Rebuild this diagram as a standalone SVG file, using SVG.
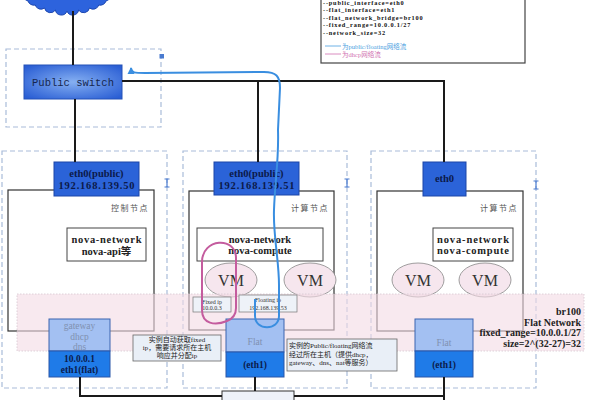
<svg xmlns="http://www.w3.org/2000/svg" width="600" height="400" viewBox="0 0 600 400">
<defs>
<radialGradient id="swg" cx="50%" cy="50%" r="65%"><stop offset="0" stop-color="#86b0f2"/><stop offset="1" stop-color="#2a5ed4"/></radialGradient>
<marker id="arrB" markerWidth="8" markerHeight="8" refX="6" refY="4" orient="auto" markerUnits="userSpaceOnUse"><path d="M0,0.5 L7,4 L0,7.5 Z" fill="#3a8ee0"/></marker>
<style>
.dash{fill:none;stroke:#a9bcd9;stroke-width:1.2;stroke-dasharray:5 3}
.inner{fill:#fff;stroke:#333;stroke-width:1.2}
.eth{fill:#2b63d8;stroke:#1c46a8;stroke-width:1}
.ethT{font-family:"Liberation Serif",serif;font-weight:bold;font-size:10.5px;fill:#0b1a4a;text-anchor:middle}
.lbl{font-family:"Noto Sans CJK SC",sans-serif;font-size:8px;fill:#555;letter-spacing:1.5px;text-anchor:end}
.nova{fill:#fff;stroke:#444;stroke-width:1}
.novaT{font-family:"Liberation Serif","Noto Sans CJK SC",serif;font-weight:bold;font-size:10.5px;fill:#222;text-anchor:middle}
.vm{fill:#f6e6ee;stroke:#888;stroke-width:0.8}
.vmT{font-family:"Liberation Serif",serif;font-size:16px;fill:#333;text-anchor:middle}
.lt{fill:#a3c0f2;stroke:#3a64b0;stroke-width:1}
.dk{fill:#1f7be8;stroke:#2a56a8;stroke-width:1}
.grayT{font-family:"Liberation Serif",serif;font-size:9.5px;fill:#8090b0;text-anchor:middle}
.dkT{font-family:"Liberation Serif",serif;font-weight:bold;font-size:9.5px;fill:#0b1a4a;text-anchor:middle}
.note{fill:#e9eff7;stroke:#666;stroke-width:0.8}
.noteT{font-family:"Liberation Serif","Noto Sans CJK SC",serif;font-size:7px;fill:#222}
.tiny{font-family:"Liberation Serif",serif;font-size:6px;fill:#333;text-anchor:middle}
.wire{fill:none;stroke:#1a1a1a;stroke-width:2}
.ib{fill:none;stroke:#4a7bd0;stroke-width:1.2}
.leg{font-family:"Liberation Serif",serif;font-weight:bold;font-size:6.3px;fill:#111;letter-spacing:0.8px}
.bandT{font-family:"Liberation Serif",serif;font-weight:bold;font-size:10px;fill:#222;text-anchor:end}
</style>
</defs>
<rect width="600" height="400" fill="#fff"/>

<g id="cloud">
<path d="M22,-8 A6,6 0 0,0 23.5,-3.5 A6,6 0 0,0 28,1 A6,6 0 0,0 35.2,5 A6,6 0 0,0 44.5,8 A6,6 0 0,0 55.4,10 A6,6 0 0,0 67,11 A6,6 0 0,0 78.6,10 A6,6 0 0,0 89.5,8 A6,6 0 0,0 98.8,5 A6,6 0 0,0 106,1 A6,6 0 0,0 110.5,-3.5 A6,6 0 0,0 112,-8 L112,-30 L22,-30 Z" fill="#2d63dd" stroke="#1d47b0" stroke-width="1"/>
</g>

<g id="legend">
<rect x="321" y="-10" width="204" height="73" fill="#fff" stroke="#444" stroke-width="1.2"/>
<text class="leg" x="323" y="4.5">--public_interface=eth0</text>
<text class="leg" x="323" y="12">--flat_interface=eth1</text>
<text class="leg" x="323" y="19.5">--flat_network_bridge=br100</text>
<text class="leg" x="323" y="27">--fixed_range=10.0.0.1/27</text>
<text class="leg" x="323" y="34.5">--network_size=32</text>
<line x1="325" y1="46" x2="341" y2="46" stroke="#4aa0e0" stroke-width="0.8"/>
<text x="342" y="48.5" font-family="Liberation Serif,Noto Sans CJK SC,serif" font-size="6.5px" fill="#4aa0e0">为public/floating网络流</text>
<line x1="325" y1="54" x2="341" y2="54" stroke="#d070b0" stroke-width="0.8"/>
<text x="342" y="56.5" font-family="Liberation Serif,Noto Sans CJK SC,serif" font-size="6.5px" fill="#d070b0">为dhcp网络流</text>
</g>

<g id="switch">
<rect class="dash" x="6" y="49" width="155" height="78"/>
<rect x="159.5" y="54" width="4.5" height="4.5" fill="#4a7bd0"/>
<rect x="24" y="65" width="98" height="34" fill="url(#swg)" stroke="#2552b8" stroke-width="1"/>
<text x="73" y="85.5" font-family="Liberation Mono,monospace" font-size="10.5px" fill="#16264e" text-anchor="middle">Public switch</text>
</g>

<g id="node-control">
<rect class="dash" x="2" y="151" width="165" height="237"/>
<path class="ib" d="M164.5,179 H169.5 M164.5,187 H169.5 M167,179 V187"/>
<rect class="inner" x="8" y="190" width="146" height="141"/>
<rect class="eth" x="54" y="162" width="85" height="34"/>
<text class="ethT" x="96.5" y="177">eth0(public)</text>
<text class="ethT" x="96.5" y="189" textLength="76" lengthAdjust="spacing">192.168.139.50</text>
<text class="lbl" x="149" y="211">控制节点</text>
<rect class="nova" x="67" y="228" width="79" height="33"/>
<text class="novaT" x="106.5" y="243" textLength="70" lengthAdjust="spacing">nova-network</text>
<text class="novaT" x="106.5" y="255">nova-api等</text>
</g>

<g id="node-compute1">
<rect class="dash" x="183" y="151" width="164" height="237"/>
<path class="ib" d="M344.5,179 H349.5 M344.5,187 H349.5 M347,179 V187"/>
<rect class="inner" x="189" y="191" width="145" height="139"/>
<rect class="eth" x="214" y="162" width="85" height="33"/>
<text class="ethT" x="256.5" y="177">eth0(public)</text>
<text class="ethT" x="256.5" y="189" textLength="76" lengthAdjust="spacing">192.168.139.51</text>
<text class="lbl" x="329" y="211">计算节点</text>
<rect class="nova" x="197" y="228" width="126" height="33"/>
<text class="novaT" x="260" y="243">nova-network</text>
<text class="novaT" x="260" y="254">nova-compute</text>
<ellipse class="vm" cx="231" cy="280" rx="26" ry="17"/>
<text class="vmT" x="231" y="286">VM</text>
<ellipse class="vm" cx="310" cy="280" rx="26" ry="17"/>
<text class="vmT" x="310" y="286">VM</text>
</g>

<g id="node-compute2">
<rect class="dash" x="371" y="151" width="165" height="237"/>
<path class="ib" d="M533.5,181 H538.5 M533.5,189 H538.5 M536,181 V189"/>
<rect class="inner" x="377" y="191" width="146" height="140"/>
<rect class="eth" x="423" y="162" width="43" height="34"/>
<text class="ethT" x="444.5" y="182">eth0</text>
<text class="lbl" x="518" y="211">计算节点</text>
<rect class="nova" x="433" y="228" width="80" height="33"/>
<text class="novaT" x="473" y="243" textLength="72" lengthAdjust="spacing">nova-network</text>
<text class="novaT" x="473" y="254" textLength="72" lengthAdjust="spacing">nova-compute</text>
<ellipse class="vm" cx="418" cy="280" rx="26" ry="17"/>
<text class="vmT" x="418" y="286">VM</text>
<ellipse class="vm" cx="485" cy="280" rx="26" ry="17"/>
<text class="vmT" x="485" y="286">VM</text>
</g>

<g id="br100">
<rect x="17" y="294" width="567" height="57" fill="#f3dbe5" fill-opacity="0.6" stroke="#d6c6d0" stroke-width="0.8" stroke-dasharray="1.5 1.5"/>
<text class="bandT" x="581" y="315">br100</text>
<text class="bandT" x="581" y="325.5">Flat Network</text>
<text class="bandT" x="581" y="336">fixed_range=10.0.0.1/27</text>
<text class="bandT" x="581" y="346.5">size=2^(32-27)=32</text>
</g>

<g id="fixed-ip">
<rect x="193" y="297" width="38" height="15" fill="#eef2f8" stroke="#777" stroke-width="0.7"/>
<text class="tiny" x="212" y="303.5">Fixed ip</text>
<text class="tiny" x="212" y="310">10.0.0.3</text>
</g>
<g id="floating-ip">
<rect x="239" y="295" width="58" height="17" fill="#eef2f8" stroke="#777" stroke-width="0.7"/>
<text class="tiny" x="268" y="302">Floating ip</text>
<text class="tiny" x="268" y="309.5">192.168.139.53</text>
</g>

<g id="gateway">
<rect class="lt" x="49" y="319" width="61" height="32"/>
<text class="grayT" x="79.5" y="328.5">gateway</text>
<text class="grayT" x="79.5" y="339.5">dhcp</text>
<text class="grayT" x="79.5" y="350">dns</text>
<rect class="dk" x="49" y="351" width="61" height="26"/>
<text class="dkT" x="79.5" y="362">10.0.0.1</text>
<text class="dkT" x="79.5" y="373">eth1(flat)</text>
</g>

<g id="flat1">
<rect class="lt" x="226" y="319" width="58" height="33"/>
<text class="grayT" x="255" y="345">Flat</text>
<rect class="dk" x="226" y="352" width="58" height="25"/>
<text class="dkT" x="255" y="368">(eth1)</text>
</g>

<g id="flat2">
<rect class="lt" x="415" y="319" width="58" height="32"/>
<text class="grayT" x="444" y="346">Flat</text>
<rect class="dk" x="415" y="351" width="58" height="26"/>
<text class="dkT" x="444" y="368">(eth1)</text>
</g>

<g id="note-fixed">
<rect class="note" x="133" y="335" width="88" height="26"/>
<text class="noteT" x="177" y="342" text-anchor="middle">实例自动获取fixed</text>
<text class="noteT" x="177" y="350" text-anchor="middle">ip，需要请求所在主机</text>
<text class="noteT" x="177" y="358" text-anchor="middle">响应并分配ip</text>
</g>

<g id="note-floating">
<rect class="note" x="287" y="339" width="110" height="32"/>
<text class="noteT" x="289" y="348">实例的Public/floating网络流</text>
<text class="noteT" x="289" y="356.5">经过所在主机（提供dhcp，</text>
<text class="noteT" x="289" y="365">gateway、dns、nat等服务）</text>
</g>

<g id="bottom-switch">
<rect x="222" y="391" width="72" height="20" fill="#eef2f9" stroke="#333" stroke-width="1"/>
</g>

<g id="connectors">
<path class="wire" d="M73,11 V65"/>
<path class="wire" d="M75,99 V162"/>
<path class="wire" d="M122,81 H444 V162"/>
<path class="wire" d="M258,81 V162"/>
<path class="wire" d="M80,377 V396 H222 M294,396 H444"/>
<path class="wire" d="M255,377 V391"/>
<path class="wire" d="M444,377 V400"/>
<path d="M227,321 C215,326 202,324 202,310 L202,262 C202,238 236,236 236,258 L236,308 C236,316 232,319 227,321" fill="none" stroke="#c45c9e" stroke-width="2"/>
<path d="M255,299 V316 C255,331 279,331 279,316 V285 C279,260 273,235 274,210 C275,180 279,160 278,130 L280,88 C280,76 276,72 264,72 L145,73 C135,73 131,73 131,68" fill="none" stroke="#3a8ee0" stroke-width="2" marker-end="url(#arrB)"/>
</g>
</svg>
